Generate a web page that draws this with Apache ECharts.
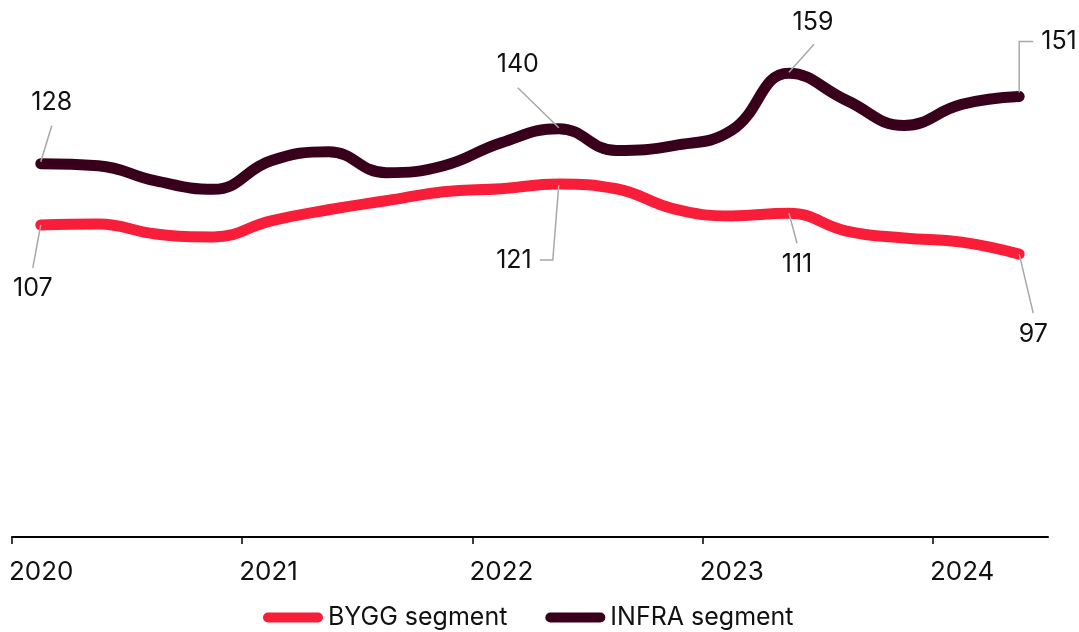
<!DOCTYPE html>
<html><head><meta charset="utf-8">
<script src="https://cdn.jsdelivr.net/npm/echarts@6/dist/echarts.min.js"></script>
<style>html,body{margin:0;padding:0;background:#fff}#c{width:1079px;height:632px}</style>
</head><body><div id="c"></div>
<script>
// ---- data ----
const periods = ['2020-02','2020-05','2020-08','2020-11','2021-02','2021-05','2021-08','2021-11','2022-02','2022-05','2022-08','2022-11','2023-02','2023-05','2023-08','2023-11','2024-02','2024-05'];
const byggValues  = [107,107.3,103.9,102.9,108.4,112.2,115.3,118.4,119.4,121,119.4,112.5,110.1,111,104.9,102.5,101.1,97];
const infraValues = [128,127.3,122.1,119.2,129,132.1,124.9,127.3,135.2,140,132.5,134.2,139.4,159,149.7,141.1,148.3,151];
const yearTicks = [2020,2021,2022,2023,2024];
const seriesNames = ['BYGG segment','INFRA segment'];
// which points carry a value callout: [series, period index]
const callouts = [['INFRA',0],['BYGG',0],['INFRA',9],['BYGG',9],['INFRA',13],['BYGG',13],['INFRA',17],['BYGG',17]];

// ---- styling / layout ----
const RED = '#F81D38', DARK = '#38001A', TEXT = '#111111', LEAD = '#a8a8a8';
const FONT = 'Inter, "Noto Sans", sans-serif';
const FS = 25;
const calloutLayout = [
  {line:[[0,-2],[11,-38]], text:[11,-61], align:'center'},
  {line:[[0,0],[-8,43]], text:[-8,64], align:'center'},
  {line:[[0,-1],[-41,-41]], text:[-41,-64], align:'center'},
  {line:[[0,1],[-6,76],[-19,76]], text:[-27,76], align:'right'},
  {line:[[0,-1],[25,-29]], text:[24,-51], align:'center'},
  {line:[[0,0],[8,30]], text:[8,51], align:'center'},
  {line:[[0,-4],[0,-55],[14,-55]], text:[22,-55], align:'left'},
  {line:[[0,0],[14,59]], text:[14,80], align:'center'}
];

const xPos = periods.map(p => { const [y,m] = p.split('-').map(Number); return y + (m - 0.5) / 12; });
const byggData = xPos.map((x,i) => [x, byggValues[i]]);
const infraData = xPos.map((x,i) => [x, infraValues[i]]);
const calloutData = callouts.map(([s,i],k) => [xPos[i], (s === 'BYGG' ? byggValues : infraValues)[i], k]);

const chart = echarts.init(document.getElementById('c'));
const pill = 'path://M5,0 H55 A5,5 0 0 1 55,10 H5 A5,5 0 0 1 5,0 Z';
chart.setOption({
  animation: false,
  textStyle: {fontFamily: FONT},
  grid: {left: 12, right: 31, top: 12, bottom: 95},
  legend: {
    data: seriesNames, left: 258, top: 600, itemWidth: 60, itemHeight: 10, itemGap: 38,
    icon: pill, textStyle: {fontSize: FS, color: TEXT, fontFamily: FONT}
  },
  xAxis: {
    type: 'value', min: 2020, max: 2024.5,
    axisLine: {show: true, lineStyle: {color: '#000', width: 2}},
    axisTick: {show: true, customValues: yearTicks, length: 7, lineStyle: {color: '#000', width: 1.5}},
    axisLabel: {customValues: yearTicks, formatter: v => String(v), align: 'left', margin: 22,
      fontSize: FS + 1, color: TEXT, fontFamily: FONT, padding: [0,0,0,-3]},
    splitLine: {show: false}
  },
  yAxis: {type: 'value', min: 0, max: 180, show: false, splitLine: {show: false}},
  series: [
    {name: seriesNames[0], type: 'line', data: byggData, smooth: 0.45, symbol: 'none', z: 2,
      color: RED, lineStyle: {color: RED, width: 11, cap: 'round', join: 'round'}},
    {name: seriesNames[1], type: 'line', data: infraData, smooth: 0.45, symbol: 'none', z: 2,
      color: DARK, lineStyle: {color: DARK, width: 11, cap: 'round', join: 'round'}},
    {name: 'callouts', type: 'custom', data: calloutData, encode: {x: 0, y: 1}, z: 5, clip: false,
      silent: true,
      renderItem: (params, api) => {
        const k = api.value(2);
        const p = api.coord([api.value(0), api.value(1)]);
        const L = calloutLayout[k];
        const pts = L.line.map(o => [p[0] + o[0], p[1] + o[1]]);
        return {type: 'group', children: [
          {type: 'polyline', shape: {points: pts}, style: {stroke: LEAD, lineWidth: 1.5, fill: null}},
          {type: 'text', x: p[0] + L.text[0], y: p[1] + L.text[1],
            style: {text: String(Math.round(api.value(1))), fill: TEXT, fontSize: FS, fontFamily: FONT,
              align: L.align, verticalAlign: 'middle'}}
        ]};
      }}
  ]
});
</script></body></html>
